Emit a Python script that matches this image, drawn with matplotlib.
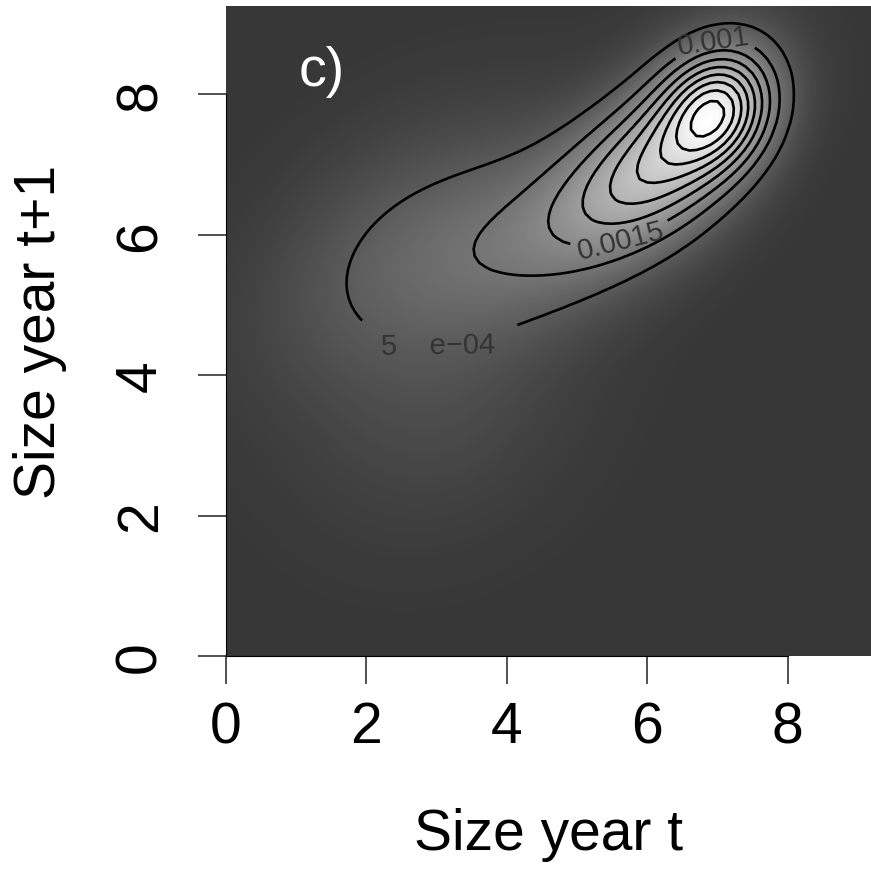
import numpy as np
import matplotlib
matplotlib.use("Agg")
import matplotlib.pyplot as plt
from matplotlib.colors import LinearSegmentedColormap, PowerNorm

plt.rcParams['font.family'] = ['Liberation Sans', 'DejaVu Sans']

# kernel surface described as a sum of tilted gaussian bumps along the ridge
comp_x = [7.02, 6.68, 5.85, 4.40, 2.45, 3.00]
comp_y = [7.80, 7.45, 6.85, 6.00, 5.75, 3.70]
comp_sd_major = [0.55, 0.90, 1.00, 1.25, 1.40, 1.30]
comp_sd_minor = [0.46, 0.58, 0.60, 0.80, 0.90, 1.10]
comp_angle = [62, 55, 42, 32, 40, 40]
comp_height = [0.00258, 0.0017, 0.0018, 0.0008, 0.0005, 0.00022]

levels = [0.0005, 0.001, 0.0015, 0.002, 0.0025, 0.003, 0.0035, 0.004, 0.0045]
label_text = {0.0005: "5    e\u221204", 0.001: "0.001", 0.0015: "0.0015"}
label_pos = {0.0005: (3.0, 4.7), 0.001: (7.0, 8.5), 0.0015: (5.6, 6.0)}
label_gap = {0.0005: 24, 0.001: 6, 0.0015: 6}

xticks = [0, 2, 4, 6, 8]
yticks = [0, 2, 4, 6, 8]

gx = np.arange(0, 9.35, 0.1)
gy = np.arange(0, 9.35, 0.1)
X, Y = np.meshgrid(gx, gy)
Z = np.zeros_like(X)
for mx, my, s1, s2, ang, h in zip(comp_x, comp_y, comp_sd_major, comp_sd_minor,
                                  comp_angle, comp_height):
    a = np.deg2rad(ang)
    dx, dy = X - mx, Y - my
    u = dx * np.cos(a) + dy * np.sin(a)
    v = -dx * np.sin(a) + dy * np.cos(a)
    Z += h * np.exp(-0.5 * (u**2 / s1**2 + v**2 / s2**2))

fig = plt.figure(figsize=(8.71, 8.70), dpi=100)
ax = fig.add_axes([226 / 871, 1 - 657 / 870, 645 / 871, 650 / 870])

cmap = LinearSegmentedColormap.from_list("grey", ["#373737", "#ffffff"])
ax.imshow(Z, origin="lower", extent=[gx[0], gx[-1], gy[0], gy[-1]],
          cmap=cmap, norm=PowerNorm(0.75, vmin=0, vmax=Z.max()),
          interpolation="bilinear", aspect="auto")

plain = [lev for lev in levels if lev not in label_text]
ax.contour(X, Y, Z, levels=plain, colors="black", linewidths=1.9)
for lev, txt in label_text.items():
    cs = ax.contour(X, Y, Z, levels=[lev], colors="black", linewidths=1.9)
    ax.clabel(cs, fmt={lev: txt}, manual=[label_pos[lev]], inline=True,
              inline_spacing=label_gap[lev], fontsize=21, colors="#333333")

ax.text(1.37, 8.33, "c)", color="white", fontsize=40, ha="center", va="center")

ax.set_xlim(0, 645 / 70.2)
ax.set_ylim(0, 650 / 70.2)
ax.set_xticks(xticks)
ax.set_yticks(yticks)
ax.tick_params(labelsize=41, length=20, width=1.1, color="#222222")
ax.tick_params(axis="x", pad=12)
ax.tick_params(axis="y", pad=22)
for t in ax.get_yticklabels():
    t.set_rotation(90)
    t.set_va("center")
for side in ["top", "right"]:
    ax.spines[side].set_visible(False)
ax.spines["bottom"].set_bounds(0, 8)
ax.spines["left"].set_bounds(0, 8)

ax.set_xlabel("Size year t", fontsize=41)
ax.set_ylabel("Size year t+1", fontsize=41)
ax.xaxis.set_label_coords(0.5, -0.274)
ax.xaxis.label.set_va("center")
ax.yaxis.set_label_coords(-0.288, 0.5)
ax.yaxis.label.set_va("center")

fig.savefig("out.png", dpi=100)
